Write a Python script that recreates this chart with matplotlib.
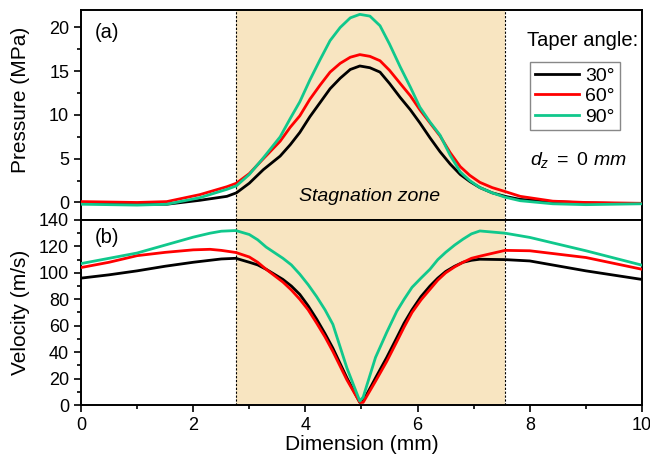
import matplotlib
matplotlib.use("Agg")
import matplotlib.pyplot as plt
from matplotlib.ticker import MultipleLocator

plt.rcParams['font.family'] = ['Liberation Sans', 'DejaVu Sans']
plt.rcParams['mathtext.fontset'] = 'custom'
plt.rcParams['mathtext.it'] = 'Liberation Sans:italic'
plt.rcParams['mathtext.rm'] = 'Liberation Sans'

# ---- data ----
angles = ["30°", "60°", "90°"]
colors = ["black", "#ff0000", "#10c88c"]

x_p = [0, 0.5, 1, 1.53, 2.12, 2.6, 2.77, 3.0, 3.25, 3.55, 3.73, 3.9, 4.08, 4.26, 4.44,
       4.62, 4.8, 4.97, 5.15, 5.33, 5.5, 5.69, 5.87, 6.04, 6.22, 6.4, 6.58, 6.76,
       6.93, 7.11, 7.33, 7.56, 7.83, 8.41, 9, 9.5, 10]
p_30 = [-0.1, -0.15, -0.2, -0.2, 0.25, 0.7, 1.1, 2.2, 3.75, 5.3, 6.6, 8.0, 9.8, 11.4, 13.0,
        14.2, 15.2, 15.6, 15.4, 14.9, 13.6, 12.0, 10.6, 9.1, 7.4, 5.8, 4.4, 3.2,
        2.4, 1.7, 1.1, 0.7, 0.35, 0.1, -0.05, -0.1, -0.1]
p_60 = [0.1, 0.05, 0.0, 0.1, 0.9, 1.8, 2.2, 3.3, 5.0, 7.0, 8.6, 9.9, 11.8, 13.4, 14.9,
        15.9, 16.6, 16.9, 16.7, 16.2, 15.1, 13.6, 12.2, 10.6, 9.1, 7.6, 5.7, 4.1,
        3.1, 2.3, 1.7, 1.25, 0.7, 0.15, 0.0, -0.05, -0.1]
p_90 = [-0.2, -0.25, -0.3, -0.2, 0.55, 1.5, 1.9, 3.2, 5.1, 7.5, 9.6, 11.5, 14.0, 16.3, 18.5,
        20.0, 21.1, 21.5, 21.3, 20.2, 18.1, 15.5, 13.2, 10.9, 9.2, 7.7, 5.4, 3.5,
        2.5, 1.7, 1.1, 0.6, 0.2, -0.15, -0.25, -0.2, -0.15]

x_v = [0, 0.5, 1, 1.5, 2, 2.3, 2.5, 2.76, 3.0, 3.15, 3.3, 3.6, 3.75, 3.9, 4.05, 4.2,
       4.35, 4.49, 4.74, 4.97, 5.03, 5.25, 5.45, 5.63, 5.76, 5.9, 6.06, 6.22, 6.36,
       6.5, 6.66, 6.81, 6.96, 7.11, 7.56, 8, 9, 10]
v_30 = [96, 98.5, 101.5, 105, 108, 109.5, 110.5, 111, 108, 106, 102.7, 95, 90, 83.7, 75, 65,
        54, 43, 20.5, 2, 3, 20.5, 36, 51, 62, 72, 82, 90, 96,
        101, 105, 108, 109.5, 110.3, 110, 109, 101.5, 95]
v_60 = [104, 108, 113, 115.5, 117.4, 117.8, 117, 115.4, 112, 108, 102.7, 93, 87, 80, 72, 62,
        51.5, 40.5, 19, 2, 2, 18, 33, 48, 59, 70, 79.5, 87.5, 94.5,
        100, 104.5, 108, 111, 112.6, 117, 116.7, 111.6, 102.7]
v_90 = [107, 111, 115, 121, 127, 130, 131.5, 132, 129, 125, 119.5, 111, 106, 99, 91, 82,
        72, 61, 28, 3, 6, 36, 55, 71, 80, 89, 96, 102.7, 110,
        115.5, 121, 125.5, 129.5, 131.7, 130, 126.8, 116.7, 105.8]

zone = (2.76, 7.56)

pressures = [p_30, p_60, p_90]
velocities = [v_30, v_60, v_90]

fig = plt.figure(figsize=(6.5, 4.58), dpi=100)
ax1 = fig.add_axes([0.1246, 0.5197, 0.8631, 0.4585])
ax2 = fig.add_axes([0.1246, 0.1157, 0.8631, 0.4040])

for ax in (ax1, ax2):
    ax.axvspan(zone[0], zone[1], color="#f8e5c1", lw=0, zorder=0)
    for xz in zone:
        ax.axvline(xz, color="black", ls=(0, (2, 1.5)), lw=0.8, zorder=1)
    ax.set_xlim(0, 10)
    for s in ax.spines.values():
        s.set_linewidth(1.4)
    ax.tick_params(which="both", direction="out", width=1.2, labelsize=13,
                   top=False, right=False)
    ax.tick_params(which="major", length=5)
    ax.tick_params(which="minor", length=3)
    ax.xaxis.set_major_locator(MultipleLocator(2))
    ax.xaxis.set_minor_locator(MultipleLocator(1))

for ang, col, p in zip(angles, colors, pressures):
    ax1.plot(x_p, p, color=col, lw=2.0, label=ang, zorder=3)
for col, v in zip(colors, velocities):
    ax2.plot(x_v, v, color=col, lw=2.0, zorder=3)

ax1.set_ylim(-2, 22)
ax1.yaxis.set_major_locator(MultipleLocator(5))
ax1.yaxis.set_minor_locator(MultipleLocator(2.5))
ax1.tick_params(axis="x", which="both", bottom=False, labelbottom=False)
ax1.set_ylabel("Pressure (MPa)", fontsize=15)
ax1.yaxis.set_label_coords(-0.09, 0.57)

ax2.set_ylim(0, 140)
ax2.yaxis.set_major_locator(MultipleLocator(20))
ax2.yaxis.set_minor_locator(MultipleLocator(10))
ax2.set_ylabel("Velocity (m/s)", fontsize=15)
ax2.yaxis.set_label_coords(-0.09, 0.5)
ax2.set_xlabel("Dimension (mm)", fontsize=15, labelpad=1)

ax1.text(0.025, 0.895, "(a)", transform=ax1.transAxes, fontsize=14.5, va="center")
ax2.text(0.025, 0.903, "(b)", transform=ax2.transAxes, fontsize=14.5, va="center")
ax1.text(0.515, 0.11, "Stagnation zone", transform=ax1.transAxes, fontsize=14,
         style="italic", ha="center", va="center")
ax1.text(0.795, 0.857, "Taper angle:", transform=ax1.transAxes, fontsize=14.5,
         va="center")
ax1.text(0.80, 0.286, r"$\mathit{d_z\ =\ 0\ mm}$", transform=ax1.transAxes,
         fontsize=14, va="center")

leg = ax1.legend(loc="upper left", bbox_to_anchor=(0.800, 0.752), borderaxespad=0,
                 fontsize=14, handlelength=2.3, handletextpad=0.3, labelspacing=0.15,
                 borderpad=0.25, fancybox=False, framealpha=1)
leg.get_frame().set_edgecolor("#888888")
leg.get_frame().set_linewidth(1.0)

fig.savefig("out.png", dpi=100)
